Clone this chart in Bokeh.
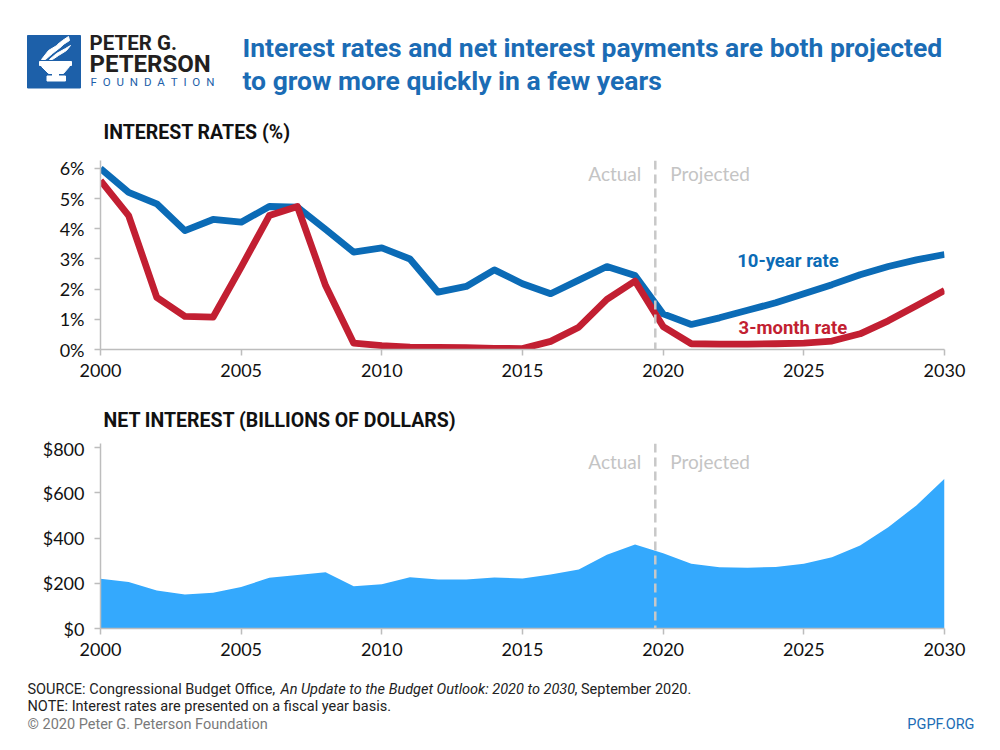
from bokeh.plotting import figure
from bokeh.layouts import column
from bokeh.models import Range1d, Span, Label, PrintfTickFormatter, FixedTicker
from bokeh.embed import file_html
from bokeh.resources import INLINE
from bokeh.core.properties import value

years = list(range(2000, 2031))
ten_year = [6.0, 5.21, 4.83, 3.94, 4.31, 4.22, 4.74, 4.72, 3.98, 3.23,
            3.37, 3.0, 1.90, 2.09, 2.64, 2.18, 1.85, 2.30, 2.75, 2.45,
            1.18, 0.83, 1.05, 1.30, 1.55, 1.85, 2.15, 2.48, 2.75, 2.97, 3.15]
three_month = [5.60, 4.44, 1.73, 1.10, 1.07, 2.73, 4.44, 4.74, 2.12, 0.21,
               0.13, 0.08, 0.07, 0.06, 0.04, 0.03, 0.27, 0.74, 1.66, 2.27,
               0.76, 0.19, 0.18, 0.18, 0.19, 0.21, 0.28, 0.52, 0.95, 1.45, 1.96]
net_interest = [220, 205, 168, 150, 158, 183, 224, 236, 249, 187,
                196, 227, 217, 217, 225, 221, 239, 261, 326, 371,
                333, 286, 271, 269, 272, 286, 315, 367, 448, 544, 662]
x_ticks = [2000, 2005, 2010, 2015, 2020, 2025, 2030]
rate_ticks = [0, 1, 2, 3, 4, 5, 6]
dollar_ticks = [0, 200, 400, 600, 800]
split_year = 2019.72

BLUE = "#0b6bb6"
RED = "#c21f32"
AREA = "#34a9fd"
TITLE_BLUE = "#1b6cb5"
GRAY = "#c4c4c4"
AXIS_GRAY = "#bdbdbd"
BOLD_FONT = "Roboto"
TICK_FONT = "Lato"


def base_chart(height, top, bottom, ymax):
    p = figure(width=1000, height=height, x_range=Range1d(2000, 2030),
               y_range=Range1d(0, ymax), output_backend="svg",
               toolbar_location=None, min_border_left=100, min_border_right=56,
               min_border_top=top, min_border_bottom=bottom)
    p.outline_line_color = None
    p.grid.visible = False
    p.xaxis.ticker = FixedTicker(ticks=x_ticks)
    for ax in (p.xaxis[0], p.yaxis[0]):
        ax.axis_line_color = AXIS_GRAY
        ax.axis_line_width = 1.5
        ax.major_tick_line_color = AXIS_GRAY
        ax.major_tick_line_width = 1.5
        ax.major_tick_out = 6
        ax.major_tick_in = 0
        ax.minor_tick_line_color = None
        ax.major_label_text_font = TICK_FONT
        ax.major_label_text_font_size = "18px"
        ax.major_label_text_color = "#111111"
    p.xaxis.major_label_standoff = 8
    p.yaxis.major_label_standoff = 10
    return p


def text_canvas(height, y_top):
    c = figure(width=1000, height=height, x_range=Range1d(0, 1000),
               y_range=Range1d(y_top + height, y_top),
               x_axis_location=None, y_axis_location=None, min_border=0,
               output_backend="svg", toolbar_location=None)
    c.outline_line_color = None
    c.grid.visible = False
    c.frame_align = False
    return c


section_kw = dict(text_font=value(BOLD_FONT), text_font_style="bold", text_font_size="19.5px",
                  text_color="#111111", text_baseline="middle")

# ---------- header ----------
hdr = text_canvas(150, 0)
hdr.quad(left=[27], right=[80], top=[35], bottom=[87.5], color="#1d60a9")
torch_xs = [[39, 71, 71, 39], [41, 69, 63, 48], [52, 58, 58, 52], [46.5, 65, 65, 46.5],
            [41, 48, 58, 66, 61, 52, 45], [49, 56, 65, 70, 66, 58, 52], [57, 62, 68, 69, 66, 61]]
torch_ys = [[61, 61, 65, 65], [66, 66, 73, 73], [73, 73, 75.5, 75.5], [75.5, 75.5, 80.5, 80.5],
            [59, 50, 44, 40, 46, 53, 59], [59, 53, 48, 45, 50, 55, 59], [44, 40, 36, 40, 42, 45]]
hdr.patches(torch_xs, torch_ys, color="white")
hdr.text(x=[89], y=[42.5], text=["PETER G."], text_font=value(BOLD_FONT), text_font_style="bold",
         text_font_size="20.5px", text_color="#231f20", text_baseline="middle")
hdr.text(x=[89], y=[63], text=["PETERSON"], text_font=value(BOLD_FONT), text_font_style="bold",
         text_font_size="24px", text_color="#231f20", text_baseline="middle")
hdr.text(x=[90], y=[81.7], text=["F\u2002O\u2002U\u2002N\u2002D\u2002A\u2002T\u2002I\u2002O\u2002N"],
         text_font=value(BOLD_FONT), text_font_size="11.5px", text_color="#1d60a9",
         text_baseline="middle")
hdr.text(x=[242, 242], y=[46.5, 79.5],
         text=["Interest rates and net interest payments are both projected",
               "to grow more quickly in a few years"],
         text_font=value(BOLD_FONT), text_font_style="bold", text_font_size="26.5px",
         text_color=TITLE_BLUE, text_baseline="middle")
hdr.text(x=[103], y=[131.5], text=["INTEREST RATES (%)"], **section_kw)

# ---------- chart 1: interest rates ----------
p1 = base_chart(240, 10, 41, 6.265)
p1.yaxis.ticker = FixedTicker(ticks=rate_ticks)
p1.yaxis.formatter = PrintfTickFormatter(format="%d%%")
p1.line(years, ten_year, line_color=BLUE, line_width=6.8, line_join="round")
p1.line(years, three_month, line_color=RED, line_width=6.8, line_join="round")
p1.add_layout(Span(location=split_year, dimension="height", line_color="#c8c8c8",
                   line_width=2.5, line_dash="9 5"))
p1.add_layout(Label(x=split_year, y=5.83, x_offset=-14, text="Actual", text_align="right",
                    text_baseline="middle", text_font=TICK_FONT, text_font_size="19px",
                    text_color=GRAY))
p1.add_layout(Label(x=split_year, y=5.83, x_offset=15, text="Projected", text_align="left",
                    text_baseline="middle", text_font=TICK_FONT, text_font_size="19px",
                    text_color=GRAY))
p1.add_layout(Label(x=2022.63, y=2.95, text="10-year  rate", text_baseline="middle",
                    text_font=BOLD_FONT, text_font_style="bold", text_font_size="18.5px",
                    text_color=BLUE))
p1.add_layout(Label(x=2022.68, y=0.71, text="3-month rate", text_baseline="middle",
                    text_font=BOLD_FONT, text_font_style="bold", text_font_size="18.5px",
                    text_color=RED))

# ---------- section strip ----------
mid = text_canvas(47, 390)
mid.text(x=[103], y=[420], text=["NET INTEREST (BILLIONS OF DOLLARS)"], **section_kw)

# ---------- chart 2: net interest ----------
p2 = base_chart(235, 6, 44, 817.7)
p2.yaxis.ticker = FixedTicker(ticks=dollar_ticks)
p2.yaxis.formatter = PrintfTickFormatter(format="$%d")
p2.varea(x=years, y1=0, y2=net_interest, fill_color=AREA)
p2.add_layout(Span(location=split_year, dimension="height", line_color="#c8c8c8",
                   line_width=2.5, line_dash="9 5"))
p2.add_layout(Label(x=split_year, y=739, x_offset=-14, text="Actual", text_align="right",
                    text_baseline="middle", text_font=TICK_FONT, text_font_size="19px",
                    text_color=GRAY))
p2.add_layout(Label(x=split_year, y=739, x_offset=15, text="Projected", text_align="left",
                    text_baseline="middle", text_font=TICK_FONT, text_font_size="19px",
                    text_color=GRAY))

# ---------- footer ----------
ftr = text_canvas(74, 672)
fkw = dict(text_font=value(BOLD_FONT), text_font_size="14.5px", text_baseline="middle")
ftr.text(x=[27], y=[689], text=["SOURCE: Congressional Budget Office, "], text_color="#222222", **fkw)
ftr.text(x=[280], y=[689], text=["An Update to the Budget Outlook: 2020 to 2030"],
         text_color="#222222", text_font_style="italic", **fkw)
ftr.text(x=[574], y=[689], text=[", September 2020."], text_color="#222222", **fkw)
ftr.text(x=[27], y=[706], text=["NOTE: Interest rates are presented on a fiscal year basis."],
         text_color="#222222", **fkw)
ftr.text(x=[27], y=[724], text=["\u00a9 2020 Peter G. Peterson Foundation"], text_color="#7a7a7a", **fkw)
ftr.text(x=[974], y=[724], text=["PGPF.ORG"], text_color=TITLE_BLUE, text_align="right", **fkw)

layout = column(hdr, p1, mid, p2, ftr, spacing=0)
open("out.html", "w").write(file_html(layout, INLINE))
